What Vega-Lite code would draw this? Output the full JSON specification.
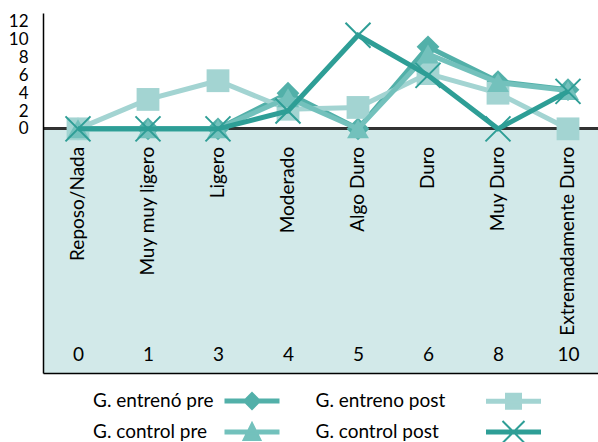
{
  "$schema": "https://vega.github.io/schema/vega-lite/v6.json",
  "width": 560,
  "height": 360,
  "autosize": {"type": "none"},
  "padding": {"left": 43, "top": 13, "right": 0, "bottom": 69},
  "background": "white",
  "config": {
    "view": {"stroke": null},
    "font": "Lato"
  },
  "data": {
    "values": [
      {"categoria": "Reposo/Nada", "escala": 0, "serie": "G. entrenó pre", "valor": 0},
      {"categoria": "Muy muy ligero", "escala": 1, "serie": "G. entrenó pre", "valor": 0},
      {"categoria": "Ligero", "escala": 3, "serie": "G. entrenó pre", "valor": 0},
      {"categoria": "Moderado", "escala": 4, "serie": "G. entrenó pre", "valor": 4},
      {"categoria": "Algo Duro", "escala": 5, "serie": "G. entrenó pre", "valor": 0},
      {"categoria": "Duro", "escala": 6, "serie": "G. entrenó pre", "valor": 9.2},
      {"categoria": "Muy Duro", "escala": 8, "serie": "G. entrenó pre", "valor": 5.3},
      {"categoria": "Extremadamente Duro", "escala": 10, "serie": "G. entrenó pre", "valor": 4.4},
      {"categoria": "Reposo/Nada", "escala": 0, "serie": "G. entreno post", "valor": 0},
      {"categoria": "Muy muy ligero", "escala": 1, "serie": "G. entreno post", "valor": 3.3},
      {"categoria": "Ligero", "escala": 3, "serie": "G. entreno post", "valor": 5.4},
      {"categoria": "Moderado", "escala": 4, "serie": "G. entreno post", "valor": 2.2},
      {"categoria": "Algo Duro", "escala": 5, "serie": "G. entreno post", "valor": 2.4},
      {"categoria": "Duro", "escala": 6, "serie": "G. entreno post", "valor": 6.2},
      {"categoria": "Muy Duro", "escala": 8, "serie": "G. entreno post", "valor": 4},
      {"categoria": "Extremadamente Duro", "escala": 10, "serie": "G. entreno post", "valor": 0},
      {"categoria": "Reposo/Nada", "escala": 0, "serie": "G. control pre", "valor": 0},
      {"categoria": "Muy muy ligero", "escala": 1, "serie": "G. control pre", "valor": 0},
      {"categoria": "Ligero", "escala": 3, "serie": "G. control pre", "valor": 0},
      {"categoria": "Moderado", "escala": 4, "serie": "G. control pre", "valor": 3.5},
      {"categoria": "Algo Duro", "escala": 5, "serie": "G. control pre", "valor": 0},
      {"categoria": "Duro", "escala": 6, "serie": "G. control pre", "valor": 8.4},
      {"categoria": "Muy Duro", "escala": 8, "serie": "G. control pre", "valor": 5.2},
      {"categoria": "Extremadamente Duro", "escala": 10, "serie": "G. control pre", "valor": 4.3},
      {"categoria": "Reposo/Nada", "escala": 0, "serie": "G. control post", "valor": 0},
      {"categoria": "Muy muy ligero", "escala": 1, "serie": "G. control post", "valor": 0},
      {"categoria": "Ligero", "escala": 3, "serie": "G. control post", "valor": 0},
      {"categoria": "Moderado", "escala": 4, "serie": "G. control post", "valor": 2},
      {"categoria": "Algo Duro", "escala": 5, "serie": "G. control post", "valor": 10.5},
      {"categoria": "Duro", "escala": 6, "serie": "G. control post", "valor": 6},
      {"categoria": "Muy Duro", "escala": 8, "serie": "G. control post", "valor": 0},
      {"categoria": "Extremadamente Duro", "escala": 10, "serie": "G. control post", "valor": 4.2}
    ]
  },
  "layer": [
    {
      "mark": {"type": "rect", "color": "#D2E9E9"},
      "encoding": {
        "x": {"value": 0},
        "x2": {"value": "width"},
        "y": {
          "datum": 0,
          "type": "quantitative",
          "scale": {"domain": [-27.4, 13], "nice": false, "zero": false},
          "axis": {
            "title": null,
            "values": [0, 2, 4, 6, 8, 10, 12],
            "labelFont": "Lato",
            "labelFontSize": 17,
            "labelColor": "#000000",
            "labelPadding": 15,
            "labelOverlap": false,
            "ticks": false,
            "grid": false,
            "domainColor": "#000000",
            "domainWidth": 1.5,
            "zindex": 1
          }
        },
        "y2": {"value": "height"}
      }
    },
    {
      "mark": {"type": "rule", "color": "#333333", "strokeWidth": 2},
      "encoding": {"y": {"datum": 0, "type": "quantitative"}}
    },
    {
      "transform": [{"filter": "datum.serie === 'G. entrenó pre'"}],
      "mark": {"type": "text", "angle": 270, "align": "right", "baseline": "middle", "dx": -18, "font": "Lato", "fontSize": 19, "color": "#000000"},
      "encoding": {
        "x": {
          "field": "escala",
          "type": "ordinal",
          "scale": {"type": "point", "padding": 0.5},
          "axis": {
            "title": null,
            "orient": "bottom",
            "labelAngle": 0,
            "labelFont": "Lato",
            "labelFontSize": 19,
            "labelColor": "#000000",
            "labelPadding": -28,
            "ticks": false,
            "domain": true,
            "domainColor": "#000000",
            "domainWidth": 1.5,
            "grid": false,
            "zindex": 1
          }
        },
        "y": {"datum": 0, "type": "quantitative"},
        "text": {"field": "categoria"}
      }
    },
    {
      "transform": [{"filter": "datum.serie === 'G. entrenó pre'"}],
      "mark": {"type": "line", "color": "#52B0A9", "strokeWidth": 5, "point": {"shape": "diamond", "size": 520, "filled": true, "color": "#52B0A9"}},
      "encoding": {
        "x": {"field": "escala", "type": "ordinal"},
        "y": {"field": "valor", "type": "quantitative"}
      }
    },
    {
      "transform": [{"filter": "datum.serie === 'G. entreno post'"}],
      "mark": {"type": "line", "color": "#A3D4D2", "strokeWidth": 5, "point": {"shape": "square", "size": 520, "filled": true, "color": "#A3D4D2"}},
      "encoding": {
        "x": {"field": "escala", "type": "ordinal"},
        "y": {"field": "valor", "type": "quantitative"}
      }
    },
    {
      "transform": [{"filter": "datum.serie === 'G. control pre'"}],
      "mark": {"type": "line", "color": "#73C1BC", "strokeWidth": 5, "point": {"shape": "triangle-up", "size": 480, "filled": true, "color": "#73C1BC"}},
      "encoding": {
        "x": {"field": "escala", "type": "ordinal"},
        "y": {"field": "valor", "type": "quantitative"}
      }
    },
    {
      "transform": [{"filter": "datum.serie === 'G. control post'"}],
      "mark": {"type": "line", "color": "#2E9E96", "strokeWidth": 5, "point": {"shape": "M-1,-1L1,1M-1,1L1,-1", "size": 625, "filled": false, "strokeWidth": 2, "color": "#2E9E96"}},
      "encoding": {
        "x": {"field": "escala", "type": "ordinal"},
        "y": {"field": "valor", "type": "quantitative"}
      }
    },
    {
      "transform": [{"filter": "false"}],
      "mark": {"type": "point", "strokeWidth": 2},
      "encoding": {
        "x": {"field": "escala", "type": "ordinal"},
        "y": {"field": "valor", "type": "quantitative"},
        "fill": {
          "field": "serie",
          "type": "nominal",
          "scale": {
            "domain": ["G. entrenó pre", "G. entreno post", "G. control pre", "G. control post"],
            "range": ["#52B0A9", "#A3D4D2", "#73C1BC", "#2E9E96"]
          },
          "legend": {
            "title": null,
            "orient": "none",
            "legendX": 11,
            "legendY": 377,
            "direction": "horizontal",
            "columns": 2,
            "padding": 0,
            "columnPadding": 32.5,
            "rowPadding": 4,
            "labelFont": "Lato",
            "labelFontSize": 19,
            "labelColor": "#000000",
            "labelAlign": "left",
            "labelOffset": {"expr": "datum.index % 2 ? -209 : -170"},
            "symbolOffset": 187,
            "labelLimit": 300,
            "symbolSize": 400,
            "symbolStrokeWidth": 2,
            "symbolOpacity": 1
          }
        },
        "stroke": {
          "field": "serie",
          "type": "nominal",
          "scale": {
            "domain": ["G. entrenó pre", "G. entreno post", "G. control pre", "G. control post"],
            "range": ["#52B0A9", "#A3D4D2", "#73C1BC", "#2E9E96"]
          },
          "legend": {
            "title": null,
            "orient": "none",
            "legendX": 11,
            "legendY": 377,
            "direction": "horizontal",
            "columns": 2,
            "padding": 0,
            "columnPadding": 32.5,
            "rowPadding": 4,
            "labelFont": "Lato",
            "labelFontSize": 19,
            "labelColor": "#000000",
            "labelAlign": "left",
            "labelOffset": {"expr": "datum.index % 2 ? -209 : -170"},
            "symbolOffset": 187,
            "labelLimit": 300,
            "symbolSize": 400,
            "symbolStrokeWidth": 2,
            "symbolOpacity": 1
          }
        },
        "shape": {
          "field": "serie",
          "type": "nominal",
          "scale": {
            "domain": ["G. entrenó pre", "G. entreno post", "G. control pre", "G. control post"],
            "range": [
              "M-2.65,-0.15H2.65V0.15H-2.65Z M0,-0.8L0.8,0L0,0.8L-0.8,0Z",
              "M-2.65,-0.15H2.65V0.15H-2.65Z M-0.75,-0.75H0.75V0.75H-0.75Z",
              "M-2.65,-0.15H2.65V0.15H-2.65Z M0,-0.9L0.85,0.8L-0.85,0.8Z",
              "M-2.65,-0.15H2.65V0.15H-2.65Z M-1.1,-1.1L1.1,1.1M-1.1,1.1L1.1,-1.1"
            ]
          },
          "legend": {
            "title": null,
            "orient": "none",
            "legendX": 11,
            "legendY": 377,
            "direction": "horizontal",
            "columns": 2,
            "padding": 0,
            "columnPadding": 32.5,
            "rowPadding": 4,
            "labelFont": "Lato",
            "labelFontSize": 19,
            "labelColor": "#000000",
            "labelAlign": "left",
            "labelOffset": {"expr": "datum.index % 2 ? -209 : -170"},
            "symbolOffset": 187,
            "labelLimit": 300,
            "symbolSize": 400,
            "symbolStrokeWidth": 2,
            "symbolOpacity": 1
          }
        }
      }
    }
  ]
}
